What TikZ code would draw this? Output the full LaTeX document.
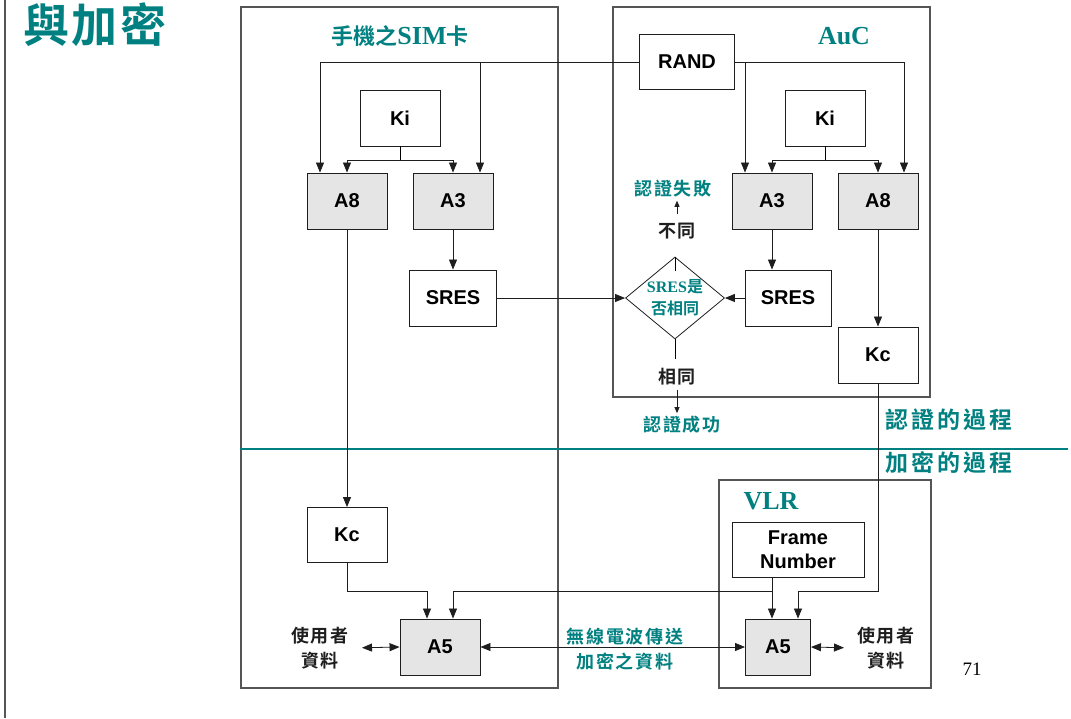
\documentclass[tikz,border=0pt]{standalone}
\usepackage{fontspec}
\setmainfont{Liberation Serif}
\setsansfont{Liberation Sans}
\newfontfamily\cjk{Noto Sans CJK TC}[BoldFont={Noto Sans CJK TC Bold}]
\usetikzlibrary{arrows.meta, shapes.geometric}
\definecolor{ink}{HTML}{1E1E1E}
\definecolor{heading}{HTML}{008080}
\definecolor{algfill}{HTML}{E5E5E5}
\definecolor{rule}{HTML}{555555}

\begin{document}
\begin{tikzpicture}[x=1pt, y=-1pt,
  keybox/.style = {draw=ink, fill=white, line width=0.9pt, minimum width=80pt, minimum height=56pt, inner sep=0pt, align=center, font=\sffamily\bfseries\fontsize{20}{24}\selectfont},
  algbox/.style = {keybox, fill=algfill},
  cmpbox/.style = {diamond, draw=ink, line width=0.8pt, minimum width=99pt, minimum height=82pt, inner sep=0pt},
  frm/.style = {draw=rule, line width=1.1pt},
  arr/.style = {-{Triangle[length=10pt,width=8pt]}, line width=0.8pt, color=ink},
  darr/.style = {{Triangle[length=10pt,width=8pt]}-{Triangle[length=10pt,width=8pt]}, line width=0.8pt, color=ink},
  sarr/.style = {-{Triangle[length=6pt,width=5pt]}, line width=0.7pt, color=ink},
  lbl/.style = {font=\cjk\bfseries\fontsize{18}{25}\selectfont\addfontfeature{LetterSpace=10}, text=ink, align=center, inner sep=1pt},
  tlbl/.style = {lbl, text=heading},
  ttl/.style = {font=\bfseries\fontsize{26}{30}\selectfont, text=heading, inner sep=0pt},
]
\useasboundingbox (0,0) rectangle (1071,718);
\draw[rule, line width=1.2pt] (5,0) -- (5,718);
\node[font=\cjk\bfseries\fontsize{46}{50}\selectfont\addfontfeature{LetterSpace=6}, text=heading] at (95,25) {與加密};

\draw[frm] (241,7) rectangle (558,688);
\draw[frm] (613,7) rectangle (930,397);
\draw[frm] (719,480) rectangle (931,688);
\draw[heading, line width=2pt] (240,449) -- (1068,449);

\node[ttl] at (400,36) {{\cjk\fontsize{22}{26}\selectfont 手機之}SIM{\cjk\fontsize{22}{26}\selectfont 卡}};
\node[ttl] at (844,36) {AuC};
\node[ttl] at (771,501) {VLR};
\node[tlbl, font=\cjk\bfseries\fontsize{23}{26}\selectfont\addfontfeature{LetterSpace=12}] at (949,420) {認證的過程};
\node[tlbl, font=\cjk\bfseries\fontsize{23}{26}\selectfont\addfontfeature{LetterSpace=12}] at (949,463) {加密的過程};
\node[font=\fontsize{19}{22}\selectfont] at (972,669) {71};

\node[keybox, minimum width=95pt, minimum height=55pt] (rand) at (687,62) {RAND};
\node[keybox] (kis) at (400,118) {Ki};
\node[algbox] (a8s) at (347,201) {A8};
\node[algbox] (a3s) at (453,201) {A3};
\node[keybox, minimum width=87pt] (sress) at (453,298) {SRES};
\node[keybox] (kia) at (825,118) {Ki};
\node[algbox] (a3a) at (772,201) {A3};
\node[algbox] (a8a) at (878,201) {A8};
\node[keybox, minimum width=86pt] (srea) at (788,298) {SRES};
\node[keybox] (kca) at (878,355) {Kc};
\node[keybox, minimum height=55pt] (kcs) at (347,535) {Kc};
\node[algbox] (a5s) at (440,647) {A5};
\node[keybox, minimum width=132pt, minimum height=55pt] (fn) at (798,550) {Frame\\Number};
\node[algbox, minimum width=65pt] (a5v) at (778,647) {A5};

\node[cmpbox] (cmp) at (675,298) {};
\node[tlbl, font=\bfseries\fontsize{16}{22}\selectfont, inner sep=0pt] at (cmp) {SRES{\cjk 是}\\{\cjk 否相同}};
\node[lbl] (diff) at (677,231) {不同};
\node[tlbl] (fail) at (673,189) {認證失敗};
\node[lbl] (same) at (677,377) {相同};
\node[tlbl] (succ) at (682,425) {認證成功};
\node[lbl] (usl) at (320,648) {使用者\\資料};
\node[lbl] (usr) at (886,648) {使用者\\資料};
\node[tlbl] (air1) at (625,637) {無線電波傳送};
\node[tlbl] (air2) at (625,662) {加密之資料};

\coordinate (rA8s) at ([xshift=-27pt]a8s.north);
\coordinate (rA3s) at ([xshift=27pt]a3s.north);
\coordinate (rA3a) at ([xshift=-27pt]a3a.north);
\coordinate (rA8a) at ([xshift=26pt]a8a.north);
\coordinate (k5s) at ([xshift=-13pt]a5s.north);
\coordinate (f5s) at ([xshift=13pt]a5s.north);
\coordinate (f5v) at ([xshift=-6pt]a5v.north);
\coordinate (k5v) at ([xshift=20pt]a5v.north);
\coordinate (lvl) at ([yshift=-28pt]kcs.south);

\draw[arr] (rand.west) -| (rA8s);
\draw[arr] (rA3s |- rand.west) -- (rA3s);
\draw[arr] (rand.east) -| (rA8a);
\draw[arr] (rA3a |- rand.east) -- (rA3a);
\draw (kis.south) -- ++(0,14) coordinate (kjs);
\draw[arr] (kjs) -| (a8s.north);
\draw[arr] (kjs) -| (a3s.north);
\draw (kia.south) -- ++(0,14) coordinate (kja);
\draw[arr] (kja) -| (a3a.north);
\draw[arr] (kja) -| (a8a.north);

\draw[arr] (a8s.south) -- (kcs.north);
\draw[arr] (a3s.south) -- (sress.north);
\draw[arr] (a3a.south) -- (a3a.south |- srea.north);
\draw[arr] (a8a.south) -- (kca.north);
\draw[arr] (sress.east) -- (cmp.west);
\draw[arr] (srea.west) -- (cmp.east);

\draw[line width=0.7pt] (cmp.north) -- ([yshift=-14pt]cmp.north);
\draw[sarr, shorten <=8pt, shorten >=2pt] (diff.north) -- (diff.north |- fail.south);
\draw[line width=0.7pt] (cmp.south) -- ([yshift=-20pt]cmp.south);
\draw[sarr, shorten <=3pt, shorten >=2pt] (same.south) -- (same.south |- succ.north);

\draw[arr] (kcs.south) |- (lvl -| k5s) -- (k5s);
\draw[arr] (f5v |- fn.south) -- (f5v);
\draw[arr] (f5v |- lvl) -| (f5s);
\draw[arr] (kca.south) |- (k5v |- lvl) -- (k5v);

\draw[darr] (a5s.east) -- (a5v.west);
\draw[darr, shorten <=12pt] (usl.east) -- (a5s.west);
\draw[darr, shorten >=12pt] (a5v.east) -- (usr.west);
\end{tikzpicture}
\end{document}
